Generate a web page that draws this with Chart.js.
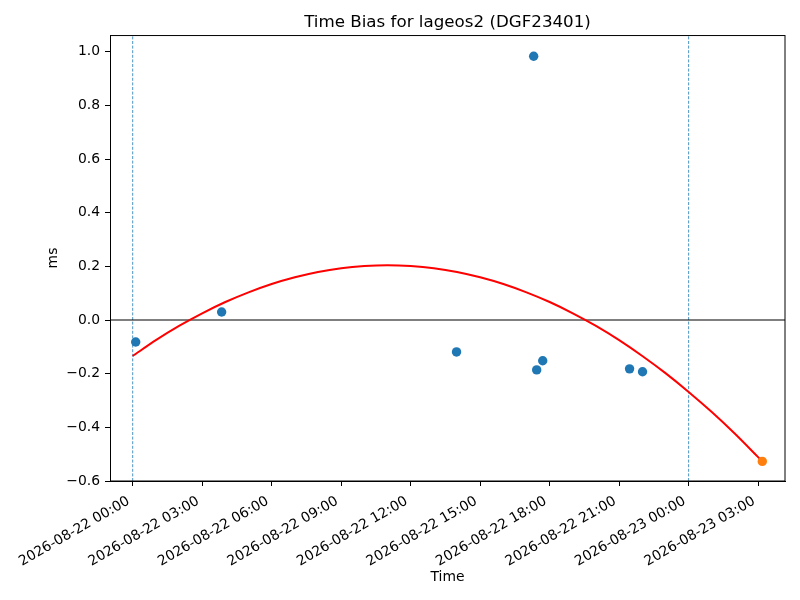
<!DOCTYPE html>
<html>
<head>
<meta charset="utf-8">
<script src="https://cdn.jsdelivr.net/npm/chart.js@4"></script>
<style>
  html, body { margin: 0; padding: 0; background: #fff; }
  #wrap { position: relative; width: 800px; height: 600px; }
</style>
</head>
<body>
<div id="wrap"><canvas id="tb-chart"></canvas></div>
<script>
// ── data (hours since 2026-08-22 00:00) ─────────────────
const obsHours = [0.13, 3.84, 13.98, 17.31, 17.44, 17.70, 21.45, 22.01];
const obsBias  = [-0.082, 0.030, -0.119, 0.983, -0.186, -0.152, -0.182, -0.193];

const predHours = [27.18];
const predBias  = [-0.527];

// fitted curve
const fitHours = [0, 1, 2, 3, 4, 5, 6, 7, 8, 9, 10, 11, 12, 13, 14, 15, 16, 17, 18, 19, 20, 21, 22, 23, 24, 25, 26, 27, 27.18];
const fitBias  = [-0.134, -0.075, -0.022, 0.025, 0.067, 0.103, 0.134, 0.159, 0.179, 0.193, 0.201, 0.204, 0.201,
                  0.193, 0.179, 0.159, 0.134, 0.103, 0.067, 0.025, -0.022, -0.075, -0.134, -0.198, -0.268,
                  -0.343, -0.424, -0.511, -0.527];

const passMarks = [0, 24];       // vertical dashed lines
const xRange    = [-0.98, 28.16];
const yRange    = [-0.6, 1.062];

const xTickHours  = [0, 3, 6, 9, 12, 15, 18, 21, 24, 27];
const xTickLabels = ['2026-08-22 00:00', '2026-08-22 03:00', '2026-08-22 06:00', '2026-08-22 09:00',
                     '2026-08-22 12:00', '2026-08-22 15:00', '2026-08-22 18:00', '2026-08-22 21:00',
                     '2026-08-23 00:00', '2026-08-23 03:00'];
const yTicks = [-0.6, -0.4, -0.2, 0.0, 0.2, 0.4, 0.6, 0.8, 1.0];

// ── helpers ─────────────────────────────────────────────
const FONT = 'DejaVu Sans';
const pts = (xs, ys) => xs.map((x, i) => ({ x, y: ys[i] }));
const fmtY = v => (v < 0 ? '\u2212' : '') + Math.abs(v).toFixed(1);

// 축 테두리 (위/오른쪽 포함)
const frame = {
  id: 'frame',
  afterDatasetsDraw(chart) {
    const { ctx, chartArea: a } = chart;
    ctx.save();
    ctx.strokeStyle = '#000';
    ctx.lineWidth = 1;
    ctx.strokeRect(a.left + 0.5, a.top + 0.5, a.right - a.left - 0.5, a.bottom - a.top - 0.5);
    ctx.restore();
  },
};

const vlines = passMarks.map(h => ({
  type: 'line',
  data: pts([h, h], yRange),
  borderColor: '#1f77b4',
  borderWidth: 0.8,
  borderDash: [3, 1.6],
  pointRadius: 0,
  order: 5,
}));

new Chart(document.getElementById('tb-chart'), {
  type: 'scatter',
  data: {
    datasets: [
      {
        data: pts(predHours, predBias),
        backgroundColor: '#ff7f0e', borderWidth: 0, pointRadius: 4.7, order: 0,
      },
      {
        type: 'line',
        data: pts(fitHours, fitBias),
        borderColor: '#ff0000', borderWidth: 2, pointRadius: 0, tension: 0.3, order: 1,
      },
      {
        data: pts(obsHours, obsBias),
        backgroundColor: '#1f77b4', borderWidth: 0, pointRadius: 4.7, order: 2,
      },
      {
        type: 'line',
        data: pts(xRange, [0, 0]),
        borderColor: '#000', borderWidth: 1.2, pointRadius: 0, order: 4,
      },
      ...vlines,
    ],
  },
  options: {
    responsive: true,
    maintainAspectRatio: false,
    animation: false,
    events: [],
    layout: { padding: { left: 0, right: 15, top: 0, bottom: 0 } },
    plugins: {
      legend: { display: false },
      tooltip: { enabled: false },
      title: {
        display: true,
        fullSize: false,
        text: 'Time Bias for lageos2 (DGF23401)',
        color: '#000',
        font: { family: FONT, size: 16.7, weight: 'normal' },
        padding: { top: 13, bottom: 2 },
      },
    },
    scales: {
      x: {
        type: 'linear',
        min: xRange[0], max: xRange[1],
        afterBuildTicks: s => { s.ticks = xTickHours.map(v => ({ value: v })); },
        afterFit: s => { s.height = 119; },
        ticks: {
          color: '#000',
          font: { family: FONT, size: 13.9 },
          minRotation: 30, maxRotation: 30,
          padding: 7,
          labelOffset: -4,
          autoSkip: false,
          callback: v => xTickLabels[xTickHours.indexOf(v)] ?? '',
        },
        grid: { drawOnChartArea: false, drawTicks: true, tickLength: 5, tickColor: '#000', tickWidth: 1 },
        border: { display: true, color: '#000', width: 1 },
        title: {
          display: true, text: 'Time', color: '#000',
          font: { family: FONT, size: 13.9 },
          padding: { top: 4, bottom: 14.6 },
        },
      },
      y: {
        type: 'linear',
        min: yRange[0], max: yRange[1],
        afterBuildTicks: s => { s.ticks = yTicks.map(v => ({ value: v })); },
        afterFit: s => { s.width = 110; },
        ticks: {
          color: '#000',
          font: { family: FONT, size: 13.9 },
          padding: 5,
          callback: v => fmtY(v),
        },
        grid: { drawOnChartArea: false, drawTicks: true, tickLength: 5, tickColor: '#000', tickWidth: 1 },
        border: { display: true, color: '#000', width: 1 },
        title: {
          display: true, text: 'ms', color: '#000',
          font: { family: FONT, size: 13.9 },
          padding: { top: 44.6, bottom: 4 },
        },
      },
    },
  },
  plugins: [frame],
});
</script>
</body>
</html>
